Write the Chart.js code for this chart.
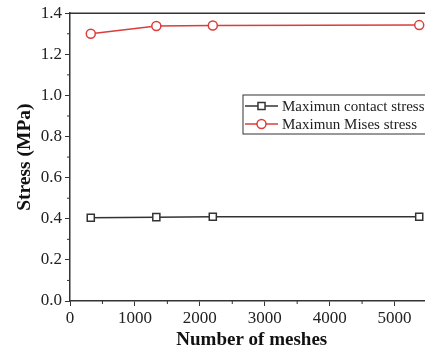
<!DOCTYPE html>
<html>
<head>
<meta charset="utf-8">
<script src="https://cdn.jsdelivr.net/npm/chart.js@4/dist/chart.umd.min.js"></script>
<style>
  html, body { margin: 0; padding: 0; background: #fff; overflow: hidden; }
  #wrap { width: 440px; height: 353px; }
</style>
</head>
<body>
<div id="wrap"><canvas id="app-canvas"></canvas></div>
<script>
// data
var meshes = [320, 1330, 2200, 5380];
var contactStress = [0.405, 0.408, 0.41, 0.41];
var misesStress = [1.30, 1.338, 1.34, 1.342];
var xTicks = [0, 1000, 2000, 3000, 4000, 5000];
var yTicks = [0.0, 0.2, 0.4, 0.6, 0.8, 1.0, 1.2, 1.4];
var seriesNames = ["Maximun contact stress", "Maximun Mises stress"];

var serif = "'Liberation Serif', 'DejaVu Serif', serif";
var red = "#dc3c3c";
var dark = "#333333";

function pairs(xs, ys) {
  var out = [];
  for (var i = 0; i < xs.length; i++) out.push({ x: xs[i], y: ys[i] });
  return out;
}

// minor ticks, top frame line and the boxed legend inside the plot
var decorPlugin = {
  id: "decor",
  afterDraw: function(chart) {
    var ctx = chart.ctx;
    var area = chart.chartArea;
    var xs = chart.scales.x;
    var ys = chart.scales.y;
    ctx.save();
    ctx.strokeStyle = dark;
    ctx.lineWidth = 1.5;
    // top frame
    ctx.beginPath();
    ctx.moveTo(area.left, area.top);
    ctx.lineTo(area.right + 10, area.top);
    ctx.stroke();
    // minor ticks
    ctx.lineWidth = 1;
    for (var i = 0; i < xTicks.length; i++) {
      var px = xs.getPixelForValue(xTicks[i] + 500);
      if (px > area.right) continue;
      ctx.beginPath();
      ctx.moveTo(px, area.bottom);
      ctx.lineTo(px, area.bottom + 3);
      ctx.stroke();
    }
    for (var j = 0; j < yTicks.length - 1; j++) {
      var py = ys.getPixelForValue(yTicks[j] + 0.1);
      ctx.beginPath();
      ctx.moveTo(area.left, py);
      ctx.lineTo(area.left - 3, py);
      ctx.stroke();
    }
    // legend
    var lx = 243, ly = 95, lw = 200, lh = 39;
    ctx.lineWidth = 1;
    ctx.strokeStyle = dark;
    ctx.fillStyle = "#fff";
    ctx.fillRect(lx, ly, lw, lh);
    ctx.strokeRect(lx, ly, lw, lh);
    ctx.font = "15px " + serif;
    ctx.textBaseline = "middle";
    ctx.textAlign = "left";
    chart.data.datasets.forEach(function(ds, k) {
      var cy = ly + 11 + k * 18;
      ctx.strokeStyle = ds.borderColor;
      ctx.lineWidth = 1.5;
      ctx.beginPath();
      ctx.moveTo(lx + 2, cy);
      ctx.lineTo(lx + 35, cy);
      ctx.stroke();
      ctx.fillStyle = "#fff";
      Chart.helpers.drawPoint(ctx, {
        pointStyle: ds.pointStyle,
        radius: ds.pointRadius,
        borderWidth: ds.pointBorderWidth
      }, lx + 18.5, cy);
      ctx.fillStyle = "#222";
      ctx.fillText(ds.label, lx + 39, cy + 1);
    });
    ctx.restore();
  }
};

var chart = new Chart(document.getElementById("app-canvas"), {
  type: "line",
  data: {
    datasets: [
      {
        label: seriesNames[0],
        data: pairs(meshes, contactStress),
        borderColor: dark,
        borderWidth: 1.5,
        pointStyle: "rect",
        pointRadius: 5,
        pointBorderWidth: 1.5,
        pointBackgroundColor: "#fff",
        pointBorderColor: dark
      },
      {
        label: seriesNames[1],
        data: pairs(meshes, misesStress),
        borderColor: red,
        borderWidth: 1.5,
        pointStyle: "circle",
        pointRadius: 4.5,
        pointBorderWidth: 1.5,
        pointBackgroundColor: "#fff",
        pointBorderColor: red
      }
    ]
  },
  options: {
    responsive: true,
    maintainAspectRatio: false,
    animation: false,
    layout: { padding: { top: 12, right: 0, left: 0, bottom: 0 } },
    plugins: { legend: { display: false }, tooltip: { enabled: false } },
    scales: {
      x: {
        type: "linear",
        min: 0,
        max: 5600,
        afterBuildTicks: function(s) { s.ticks = xTicks.map(function(v) { return { value: v }; }); },
        afterFit: function(s) { s.height = 52; },
        grid: { drawOnChartArea: false, drawTicks: true, tickLength: 5, tickColor: dark, tickWidth: 1 },
        border: { color: dark, width: 1.5 },
        ticks: { color: "#222", font: { family: serif, size: 17 }, padding: 2, maxRotation: 0, callback: function(v) { return String(v); } },
        title: { display: true, text: "Number of meshes", color: "#111", font: { family: serif, size: 19, weight: "bold" }, padding: { top: 0, bottom: 2 } }
      },
      y: {
        min: 0,
        max: 1.4,
        afterBuildTicks: function(s) { s.ticks = yTicks.map(function(v) { return { value: v }; }); },
        afterFit: function(s) { s.width = 70; },
        grid: { drawOnChartArea: false, drawTicks: true, tickLength: 5, tickColor: dark, tickWidth: 1 },
        border: { color: dark, width: 1.5 },
        ticks: { color: "#222", font: { family: serif, size: 17 }, padding: 3, callback: function(v) { return v.toFixed(1); } },
        title: { display: true, text: "Stress (MPa)", color: "#111", font: { family: serif, size: 19.5, weight: "bold" }, padding: { top: 13, bottom: 0 } }
      }
    }
  },
  plugins: [decorPlugin]
});
</script>
</body>
</html>
